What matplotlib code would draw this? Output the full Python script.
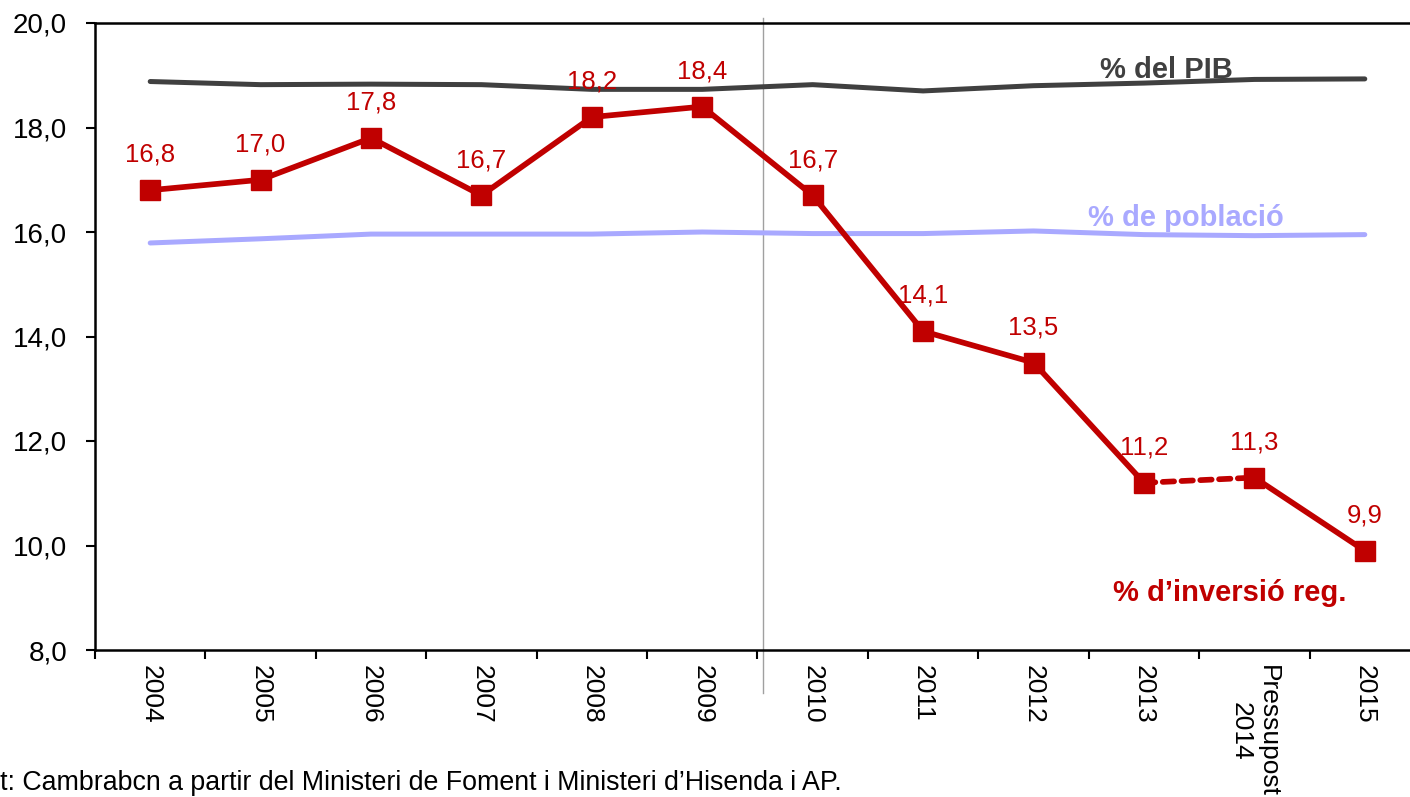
import matplotlib
matplotlib.use("Agg")
import matplotlib.pyplot as plt

plt.rcParams['font.family'] = ['Liberation Sans', 'DejaVu Sans']

categories = ["2004", "2005", "2006", "2007", "2008", "2009", "2010", "2011",
              "2012", "2013", "Pressupost\n2014", "2015"]
pib = [18.88, 18.82, 18.83, 18.82, 18.73, 18.73, 18.82, 18.70, 18.80, 18.85, 18.92, 18.93]
poblacio = [15.79, 15.87, 15.96, 15.96, 15.96, 16.00, 15.97, 15.97, 16.02, 15.95, 15.93, 15.95]
inversio = [16.8, 17.0, 17.8, 16.7, 18.2, 18.4, 16.7, 14.1, 13.5, 11.2, 11.3, 9.9]
inv_labels = ["16,8", "17,0", "17,8", "16,7", "18,2", "18,4", "16,7", "14,1",
              "13,5", "11,2", "11,3", "9,9"]
yticks = [8, 10, 12, 14, 16, 18, 20]
ytick_labels = ["8,0", "10,0", "12,0", "14,0", "16,0", "18,0", "20,0"]

RED = "#C00000"
GRAY = "#404040"
LAV = "#A9A9FF"

fig = plt.figure(figsize=(14.10, 7.97), dpi=100)
ax = fig.add_axes([95/1410, 147/797, 1325/1410, 627/797])

x = list(range(len(categories)))
ax.plot(x, pib, color=GRAY, lw=3.6, solid_capstyle='round', zorder=2)
ax.plot(x, poblacio, color=LAV, lw=3.6, solid_capstyle='round', zorder=2)

# investment: solid except 2013 -> 2014 dashed
ax.plot(x[:10], inversio[:10], color=RED, lw=4.1, zorder=3)
ax.plot(x[9:11], inversio[9:11], color=RED, lw=4.1, ls=(0, (2.0, 1.3)),
        dash_capstyle='round', zorder=3)
ax.plot(x[10:], inversio[10:], color=RED, lw=4.1, zorder=3)
ax.plot(x, inversio, ls='none', marker='s', ms=15, color=RED, zorder=4)

for xi, yi, lab in zip(x, inversio, inv_labels):
    ax.annotate(lab, (xi, yi), xytext=(0, 25.5), textcoords='offset points',
                ha='center', va='center', color=RED, fontsize=18.5)

ax.text(9.2, 19.1, "% del PIB", color=GRAY, fontsize=21, fontweight='bold',
        ha='center', va='center')
ax.text(9.38, 16.27, "% de població", color=LAV, fontsize=21, fontweight='bold',
        ha='center', va='center')
ax.text(9.78, 9.1, "% d\u2019inversió reg.", color=RED, fontsize=21, fontweight='bold',
        ha='center', va='center')

ax.set_xlim(-0.5, 11.5)
ax.set_ylim(8, 20)
ax.set_yticks(yticks)
ax.set_yticklabels(ytick_labels, fontsize=20)
ax.tick_params(axis='y', direction='out', length=6.5, width=1.5, pad=13.5)

ax.set_xticks([i + 0.5 for i in range(-1, 11)], minor=False)
ax.set_xticklabels([])
ax.set_xticks(x, minor=True)
ax.set_xticklabels(categories, minor=True, rotation=-90, fontsize=19,
                   ha='center', va='top')
ax.tick_params(axis='x', which='major', direction='out', length=6.5, width=1.5)
ax.tick_params(axis='x', which='minor', length=0, pad=11)

for s in ['left', 'bottom', 'top']:
    ax.spines[s].set_linewidth(1.8)
ax.spines['right'].set_visible(False)

ax.plot([5.55, 5.55], [1.008, -0.069], color="#A0A0A0", lw=1,
        transform=ax.get_xaxis_transform(), clip_on=False, zorder=1)

fig.text(842/1410, 1 - 783/797,
         "Font: Cambrabcn a partir del Ministeri de Foment i Ministeri d\u2019Hisenda i AP.",
         ha='right', va='center', fontsize=19.3)

fig.savefig("out.png", dpi=100)
